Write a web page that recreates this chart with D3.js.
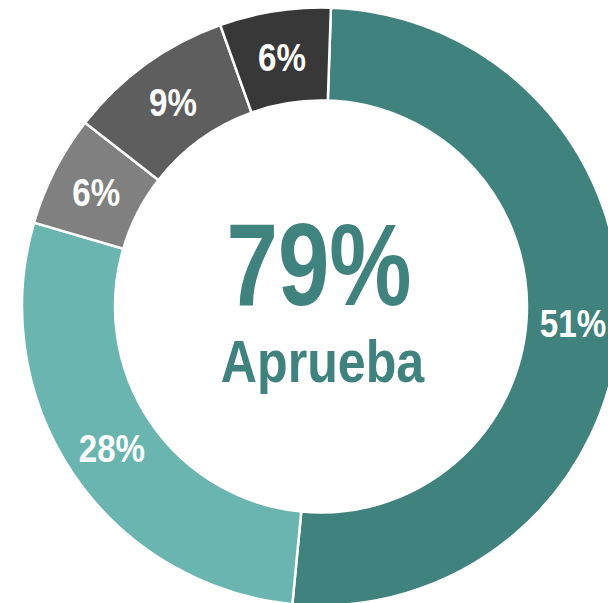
<!DOCTYPE html>
<html>
<head>
<meta charset="utf-8">
<script src="https://cdn.jsdelivr.net/npm/d3@7"></script>
<style>
  html, body { margin: 0; padding: 0; background: #fff; }
  svg { display: block; }
  text { font-family: "Liberation Sans", Arial, sans-serif; font-weight: bold; }
</style>
</head>
<body>
<div id="chart"></div>
<script>
// slice values, clockwise from the top
const categories = ['Aprueba mucho', 'Aprueba algo', 'Desaprueba algo', 'Desaprueba mucho', 'NS/NC'];
const values = [51, 28, 6, 9, 6];
const colors = ['#40827e', '#6bb5b0', '#808080', '#5e5e5e', '#383838'];
const totalLabel = '79%';
const totalName = 'Aprueba';

const width = 608, height = 603;
const cx = 321, cy = 306.5;
const outerR = 299, innerR = 206;
const startAngle = 1.9 * Math.PI / 180;

const svg = d3.select('#chart').append('svg')
  .attr('width', width)
  .attr('height', height);

const g = svg.append('g')
  .attr('transform', `translate(${cx}, ${cy})`);

const pie = d3.pie()
  .sort(null)
  .value(d => d)
  .startAngle(startAngle)
  .endAngle(startAngle + 2 * Math.PI);

const arc = d3.arc()
  .innerRadius(innerR)
  .outerRadius(outerR);

const arcs = pie(values);

g.selectAll('path.slice')
  .data(arcs)
  .enter()
  .append('path')
  .attr('class', 'slice')
  .attr('d', arc)
  .attr('fill', (d, i) => colors[i])
  .attr('stroke', '#fff')
  .attr('stroke-width', 2.5);

// narrow look: squeeze the bold sans horizontally
g.selectAll('text.pct')
  .data(arcs)
  .enter()
  .append('text')
  .attr('class', 'pct')
  .attr('transform', d => `translate(${arc.centroid(d)}) scale(0.85, 1)`)
  .attr('text-anchor', 'middle')
  .attr('dy', '0.36em')
  .attr('fill', '#fff')
  .style('font-size', '39px')
  .text(d => d.data + '%');

// centre text
g.append('text')
  .attr('transform', 'translate(-2, -1.5) scale(0.79, 1)')
  .attr('text-anchor', 'middle')
  .attr('fill', '#40827e')
  .style('font-size', '117px')
  .text(totalLabel);

g.append('text')
  .attr('transform', 'translate(1.5, 75.5) scale(0.85, 1)')
  .attr('text-anchor', 'middle')
  .attr('fill', '#40827e')
  .style('font-size', '59px')
  .text(totalName);
</script>
</body>
</html>
